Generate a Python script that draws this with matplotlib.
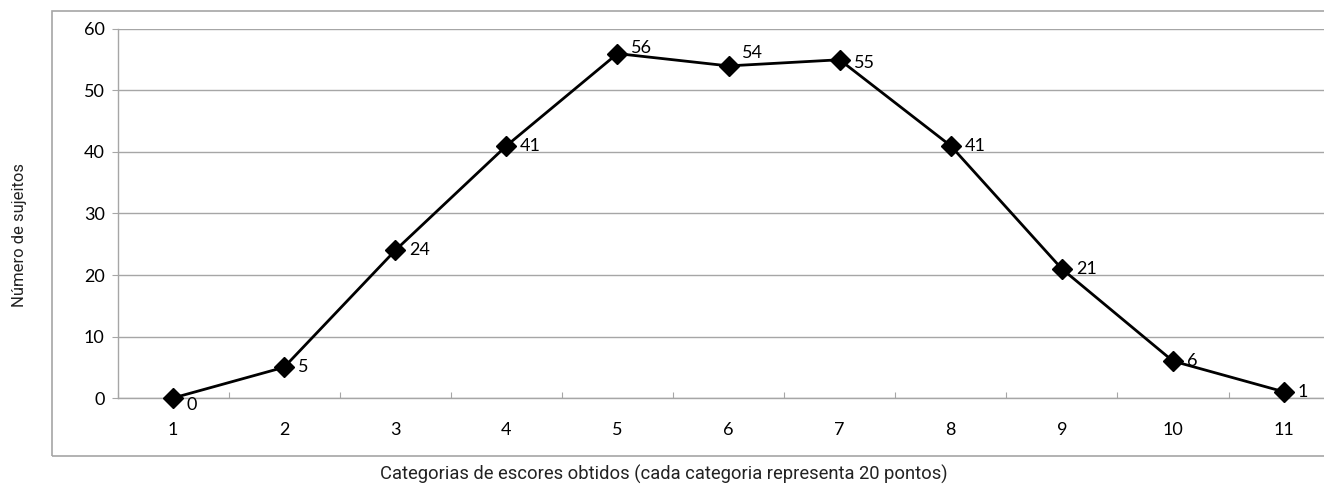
import matplotlib.pyplot as plt
from matplotlib.patches import Rectangle

categorias = [1, 2, 3, 4, 5, 6, 7, 8, 9, 10, 11]
sujeitos = [0, 5, 24, 41, 56, 54, 55, 41, 21, 6, 1]
yticks = [0, 10, 20, 30, 40, 50, 60]

# vertical nudge (points) for each value label so they don't sit on the line
label_dy = [-5, 0, 0, 0, 4, 9, -2, 0, 0, 0, 0]

W, H = 1324, 486
fig = plt.figure(figsize=(W / 100, H / 100), dpi=100)

# chart area frame (runs off the right edge)
frame = Rectangle((52 / W, 1 - 455.5 / H), 1.2, (455.5 - 11) / H,
                  transform=fig.transFigure, fill=False,
                  edgecolor="#a6a6a6", linewidth=1.2)
fig.patches.append(frame)

step = 111.1
ax = fig.add_axes([117.5 / W, 88 / H, 11 * step / W, 369 / H])
ax.set_xlim(0.5, 11.5)
ax.set_ylim(0, 60)

ax.plot(categorias, sujeitos, color="black", lw=2.0, marker="D",
        markersize=10.5, zorder=3, clip_on=False)

for x, y, dy in zip(categorias, sujeitos, label_dy):
    ax.annotate(str(y), (x, y), xytext=(10, dy), textcoords="offset points",
                ha="left", va="center", fontsize=13, family="Lato",
                color="black")

ax.set_yticks(yticks)
ax.set_yticklabels([str(v) for v in yticks], family="Lato", fontsize=13)
ax.grid(axis="y", color="#a6a6a6", lw=1)
ax.set_axisbelow(True)

# Excel-style category axis: ticks between categories, labels centred
ax.set_xticks([c + 0.5 for c in categorias[:-1]] + [0.5])
ax.set_xticklabels([])
ax.set_xticks(categorias, minor=True)
ax.set_xticklabels([str(c) for c in categorias], minor=True,
                   family="Lato", fontsize=13)
ax.tick_params(axis="x", which="minor", length=0, pad=17)
ax.tick_params(axis="x", which="major", length=4.3, color="#a6a6a6",
               direction="in")
ax.tick_params(axis="y", length=4.3, color="#a6a6a6", pad=5)

for s in ["top", "right"]:
    ax.spines[s].set_visible(False)
for s in ["left", "bottom"]:
    ax.spines[s].set_color("#a6a6a6")
    ax.spines[s].set_linewidth(1)

fig.text(20 / W, 1 - 235 / H, "Número de sujeitos", rotation=90,
         ha="center", va="center", fontsize=12,
         family="Roboto", color="#222222")
fig.text(664 / W, 1 - 474 / H,
         "Categorias de escores obtidos (cada categoria representa 20 pontos)",
         ha="center", va="center", fontsize=13.2,
         family="Roboto", color="#222222")

fig.savefig("out.png", dpi=100)
